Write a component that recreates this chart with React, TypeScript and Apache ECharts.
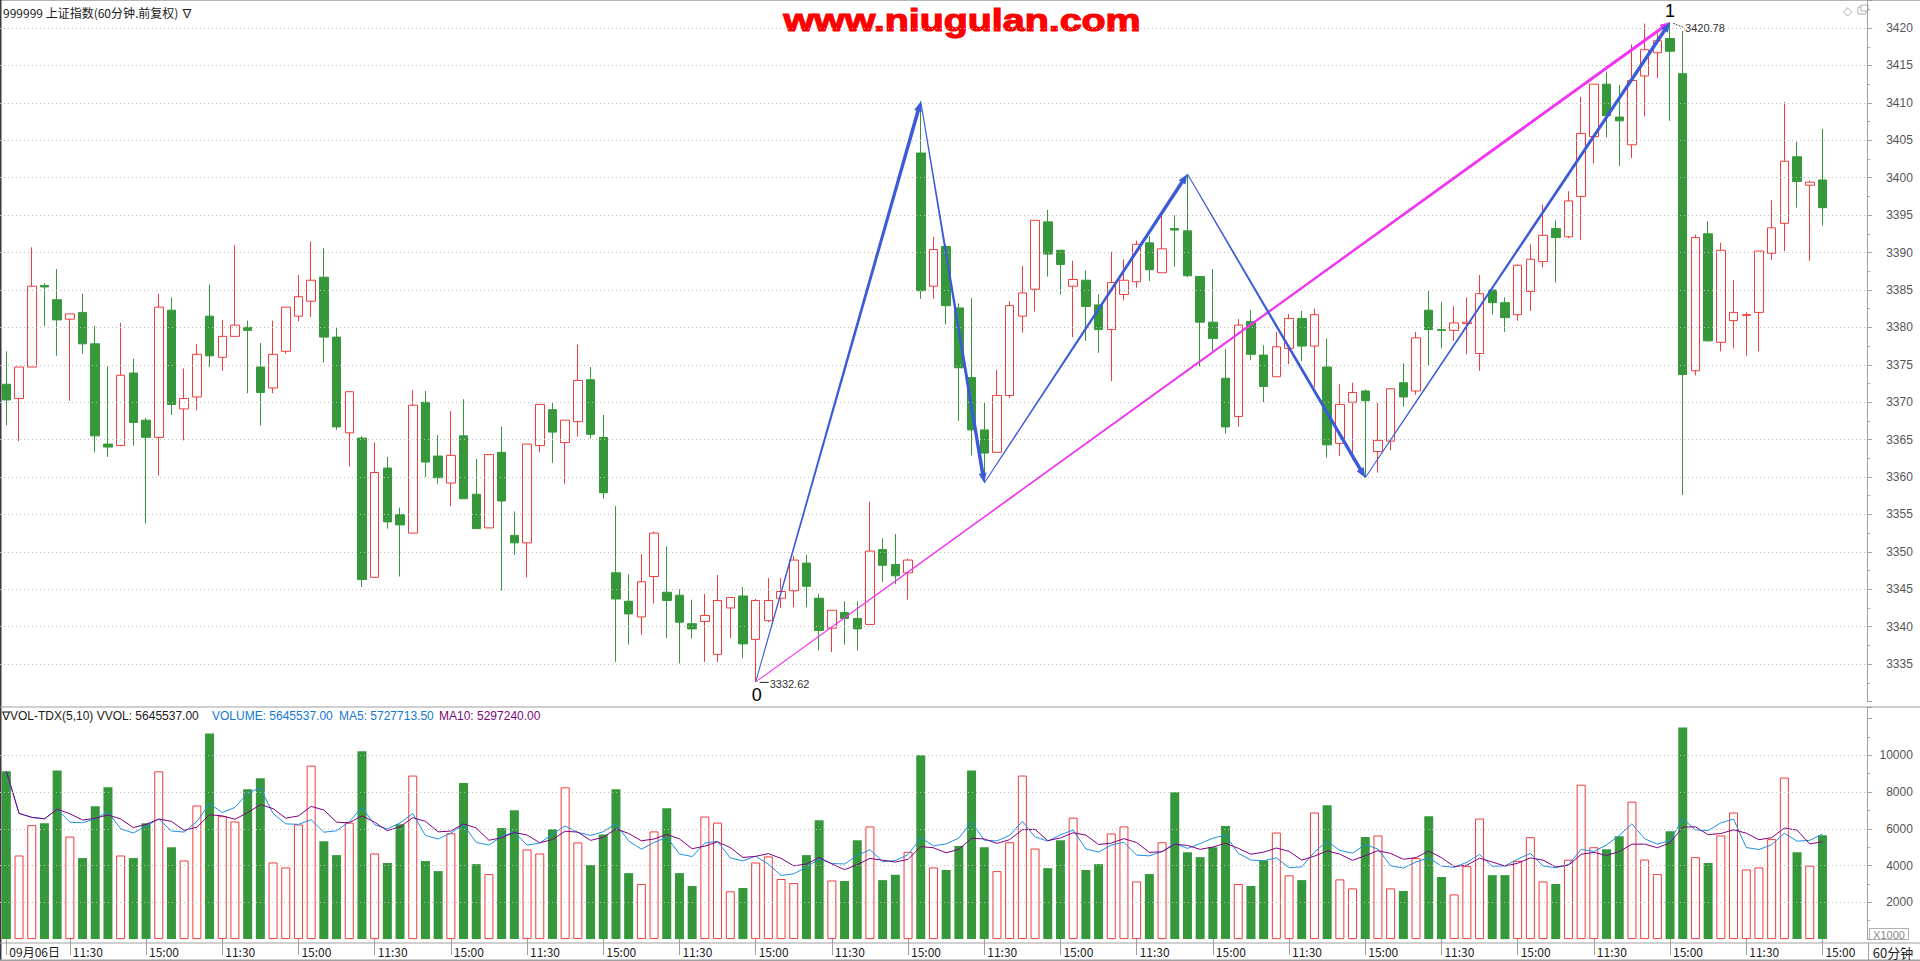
import React, { useEffect, useRef } from 'react';
import * as echarts from 'echarts';

// ---------------- DATA ----------------
// 60-minute candles: [open, close, low, high]
const ohlc: number[][] = [
  [3372.4, 3370.3, 3366.9, 3376.8], [3370.5, 3374.7, 3364.8, 3374.7], [3374.7, 3385.5, 3374.7, 3390.7], [3385.6, 3385.4, 3380.2, 3385.9],
  [3383.7, 3381.0, 3376.2, 3387.8], [3381.1, 3381.8, 3370.2, 3381.8], [3382.0, 3377.8, 3376.5, 3384.5], [3377.8, 3365.5, 3363.3, 3380.2],
  [3364.4, 3364.0, 3362.7, 3374.8], [3364.2, 3373.6, 3364.1, 3380.6], [3373.9, 3367.3, 3364.2, 3375.8], [3367.6, 3365.3, 3353.8, 3367.9],
  [3365.3, 3382.7, 3360.2, 3384.5], [3382.3, 3369.7, 3368.3, 3384.0], [3369.1, 3370.5, 3364.9, 3374.5], [3370.7, 3376.4, 3368.9, 3377.8],
  [3381.5, 3376.2, 3374.7, 3385.7], [3376.0, 3378.8, 3374.2, 3381.0], [3378.8, 3380.3, 3378.8, 3391.0], [3380.0, 3379.6, 3371.2, 3380.9],
  [3374.7, 3371.3, 3366.9, 3377.9], [3371.9, 3376.4, 3371.2, 3380.9], [3376.8, 3382.7, 3376.5, 3382.7], [3381.5, 3384.1, 3380.8, 3387.0],
  [3383.5, 3386.3, 3381.4, 3391.5], [3386.7, 3378.7, 3375.3, 3390.6], [3378.7, 3366.7, 3366.3, 3380.0], [3365.9, 3371.4, 3361.4, 3371.4],
  [3365.2, 3346.3, 3345.3, 3365.5], [3346.6, 3360.6, 3346.6, 3364.6], [3361.2, 3354.0, 3353.1, 3362.7], [3355.0, 3353.6, 3346.7, 3355.9],
  [3352.5, 3369.6, 3352.5, 3371.6], [3370.0, 3362.0, 3360.0, 3371.5], [3362.8, 3359.9, 3359.1, 3365.6], [3359.2, 3362.9, 3356.1, 3368.8],
  [3365.5, 3357.1, 3357.1, 3370.4], [3357.7, 3353.1, 3353.1, 3362.4], [3353.2, 3363.0, 3353.2, 3363.0], [3363.3, 3356.8, 3344.8, 3366.7],
  [3352.2, 3351.2, 3349.6, 3355.4], [3351.2, 3364.4, 3346.6, 3364.4], [3364.2, 3369.7, 3363.3, 3369.7], [3369.0, 3366.0, 3361.9, 3370.0],
  [3364.6, 3367.6, 3359.1, 3367.6], [3367.4, 3372.9, 3365.4, 3377.7], [3373.0, 3365.7, 3365.1, 3374.7], [3365.3, 3357.9, 3357.1, 3368.3],
  [3347.2, 3343.7, 3335.3, 3356.1], [3343.4, 3341.7, 3337.6, 3347.0], [3341.3, 3346.0, 3338.9, 3349.7], [3346.7, 3352.5, 3343.1, 3352.7],
  [3344.6, 3343.5, 3338.5, 3350.7], [3344.2, 3340.6, 3335.1, 3345.0], [3340.4, 3339.7, 3338.4, 3343.6], [3340.7, 3341.5, 3335.3, 3344.4],
  [3336.3, 3343.5, 3335.3, 3346.9], [3342.5, 3343.9, 3338.5, 3344.0], [3344.1, 3337.7, 3335.8, 3345.3], [3338.3, 3343.5, 3332.62, 3343.7],
  [3340.8, 3343.5, 3340.6, 3346.5], [3343.8, 3344.7, 3342.5, 3346.5], [3344.8, 3348.9, 3342.6, 3349.5], [3348.5, 3345.4, 3342.6, 3349.6],
  [3343.8, 3339.5, 3336.8, 3344.4], [3339.8, 3342.2, 3336.6, 3342.2], [3341.9, 3341.1, 3337.6, 3343.4], [3341.1, 3339.7, 3336.8, 3343.4],
  [3340.3, 3350.1, 3340.3, 3356.7], [3350.3, 3348.2, 3346.0, 3351.8], [3348.3, 3346.8, 3345.7, 3352.4], [3347.2, 3348.9, 3343.6, 3349.1],
  [3403.3, 3384.9, 3383.8, 3410.2], [3385.5, 3390.4, 3383.8, 3392.1], [3390.8, 3382.9, 3380.4, 3391.1], [3382.6, 3374.6, 3367.5, 3383.2],
  [3373.3, 3366.3, 3362.9, 3383.9], [3366.3, 3363.2, 3359.2, 3370.0], [3363.3, 3370.9, 3363.3, 3374.3], [3370.9, 3382.9, 3370.6, 3383.5],
  [3381.5, 3384.6, 3379.3, 3388.2], [3385.1, 3394.3, 3382.1, 3394.3], [3394.1, 3389.8, 3386.8, 3395.7], [3390.3, 3388.4, 3384.4, 3390.4],
  [3385.5, 3386.4, 3378.7, 3388.9], [3386.3, 3382.8, 3378.2, 3387.6], [3383.0, 3379.7, 3376.6, 3384.4], [3379.7, 3386.0, 3372.8, 3390.1],
  [3384.4, 3386.3, 3383.6, 3389.1], [3386.1, 3391.1, 3385.3, 3391.6], [3391.3, 3387.7, 3386.2, 3392.2], [3387.3, 3390.5, 3387.3, 3395.0],
  [3393.2, 3393.0, 3388.1, 3395.0], [3392.9, 3386.9, 3386.7, 3400.5], [3386.8, 3380.7, 3374.8, 3386.8], [3380.7, 3378.5, 3376.8, 3387.8],
  [3373.2, 3366.7, 3365.8, 3377.1], [3368.1, 3380.3, 3366.7, 3381.1], [3380.8, 3376.4, 3375.6, 3382.3], [3376.3, 3372.1, 3370.0, 3377.6],
  [3373.4, 3377.4, 3373.4, 3379.4], [3377.2, 3381.2, 3375.1, 3381.8], [3381.2, 3377.5, 3375.5, 3382.2], [3377.5, 3381.7, 3372.0, 3382.5],
  [3374.7, 3364.3, 3362.6, 3378.5], [3364.5, 3369.7, 3362.8, 3372.4], [3370.0, 3371.3, 3362.3, 3372.6], [3371.5, 3370.2, 3359.9, 3371.7],
  [3363.4, 3364.9, 3360.6, 3369.9], [3364.8, 3371.8, 3363.6, 3371.8], [3372.6, 3370.7, 3369.4, 3375.2], [3371.5, 3378.6, 3371.0, 3379.4],
  [3382.3, 3379.7, 3374.8, 3385.0], [3379.7, 3379.6, 3377.2, 3383.4], [3379.6, 3380.6, 3378.2, 3382.8], [3380.5, 3380.7, 3376.4, 3384.0],
  [3376.5, 3384.5, 3374.2, 3387.0], [3385.0, 3383.3, 3381.7, 3385.0], [3383.3, 3381.3, 3379.4, 3384.0], [3381.7, 3388.3, 3380.9, 3388.4],
  [3384.8, 3389.1, 3382.2, 3391.1], [3388.8, 3392.3, 3388.0, 3396.4], [3393.2, 3392.0, 3386.0, 3394.3], [3392.1, 3396.9, 3391.9, 3398.2],
  [3397.5, 3405.9, 3391.7, 3410.8], [3405.5, 3412.5, 3401.9, 3412.5], [3412.5, 3408.3, 3405.4, 3414.2], [3408.1, 3407.6, 3401.6, 3412.4],
  [3404.4, 3413.0, 3402.6, 3417.8], [3413.6, 3417.1, 3408.2, 3420.6], [3416.7, 3418.3, 3413.3, 3419.3], [3418.6, 3416.9, 3407.6, 3420.78],
  [3413.9, 3373.7, 3357.6, 3419.6], [3374.2, 3392.0, 3373.6, 3392.4], [3392.5, 3378.2, 3378.1, 3394.2], [3378.0, 3390.3, 3376.8, 3391.3],
  [3380.9, 3382.0, 3377.2, 3386.3], [3381.6, 3381.7, 3376.2, 3382.0], [3382.0, 3390.2, 3376.8, 3390.2], [3389.9, 3393.3, 3389.0, 3397.0],
  [3393.9, 3402.2, 3390.2, 3410.1], [3402.8, 3399.5, 3396.0, 3404.8], [3399.0, 3399.4, 3388.9, 3399.6], [3399.7, 3396.0, 3393.6, 3406.5],
];

// volume, in units of 1000 (axis "X1000")
const volumes: number[] = [
  9130, 4550, 6200, 6300, 9180, 5580, 4410, 7230, 8260, 4550, 4410, 6310, 9130, 5000, 4280, 7270,
  11190, 6690, 6400, 8150, 8750, 4170, 3900, 6240, 9440, 5330, 4570, 6340, 10220, 4660, 4140, 6250,
  8900, 4250, 3700, 5760, 8500, 4080, 3540, 6040, 7010, 4880, 4660, 5980, 8260, 5260, 4030, 5690,
  8150, 3590, 3000, 5860, 7120, 3590, 2890, 6670, 6340, 2600, 2780, 4170, 4500, 3270, 3050, 4570,
  6470, 3190, 3160, 5380, 6130, 3210, 3500, 4750, 10000, 3900, 3760, 5070, 9180, 5000, 3700, 5270,
  8900, 4930, 3860, 5380, 6610, 3760, 4080, 5750, 6130, 3140, 3540, 5270, 7990, 4730, 4460, 5000,
  6150, 3000, 2890, 4280, 5800, 3470, 3210, 6890, 7290, 3250, 2760, 5550, 5640, 2760, 2620, 4410,
  6690, 3380, 2430, 3970, 6560, 3480, 3480, 4260, 5550, 3140, 3000, 4320, 8400, 5000, 4890, 5600,
  7480, 4330, 3540, 5870, 11520, 4460, 4140, 5640, 6890, 3790, 3900, 5440, 8790, 4730, 4000, 5646,
];

// hourly sessions of each trading day
const sessionTimes = ['10:30', '11:30', '14:00', '15:00'];
const firstDayLabel = '09月06日';

// price axis ticks & volume axis ticks
const priceTicks = [3335, 3340, 3345, 3350, 3355, 3360, 3365, 3370, 3375, 3380, 3385, 3390, 3395, 3400, 3405, 3410, 3415, 3420];
const volTicks = [2000, 4000, 6000, 8000, 10000];

// wave pivots (blue zig-zag) and the magenta trend arrow
const zigzagIdx = [59, 72, 77, 93, 107, 131];
const zigzagVal = [3332.62, 3410.2, 3359.2, 3400.5, 3359.9, 3420.78];
const trendIdx = [59, 131];
const trendVal = [3332.62, 3420.78];
const pivotLabels = ['0', '1'];

// header texts
const titleText = '999999 上证指数(60分钟.前复权) ∇';
const watermark = 'www.niugulan.com';
const volHeader = [
  { text: '∇VOL-TDX(5,10) VVOL: 5645537.00', color: '#1a1a1a' },
  { text: 'VOLUME: 5645537.00', color: '#1478d2' },
  { text: 'MA5: 5727713.50', color: '#1478d2' },
  { text: 'MA10: 5297240.00', color: '#7a0a7a' },
];

// ---------------- STYLE / LAYOUT ----------------
const RED = '#f03c3c';
const GREEN = '#36983a';
const BLUE = '#3b5bd9';
const MAGENTA = '#f233f2';
const GRIDC = '#bdbdbd';
const AXISC = '#a0a0a0';
const FONT = '"Liberation Sans", Arial, sans-serif';
const CJK = '"Noto Sans CJK SC", "Liberation Sans", sans-serif';
const SLOT = 12.7;
const NSLOTS = 147;
const PLOT_W = SLOT * NSLOTS;

const N = ohlc.length;
const categories: string[] = [];
for (let i = 0; i < NSLOTS; i++) categories.push(i < N ? sessionTimes[i % 4] : '');

const movingAvg = (n: number) =>
  volumes.map((_, i) => {
    const s = volumes.slice(Math.max(0, i - n + 1), i + 1);
    return +(s.reduce((a, b) => a + b, 0) / s.length).toFixed(1);
  });

const showLabel = (idx: number) => idx === 0 || (idx % 6 === 5 && idx < N);

function arrow(p0: number[], p1: number[], w0: number, w1: number, color: string, headL: number, headW: number) {
  const dx = p1[0] - p0[0];
  const dy = p1[1] - p0[1];
  const len = Math.hypot(dx, dy) || 1;
  const ux = dx / len, uy = dy / len;
  const nx = -uy, ny = ux;
  const bx = p1[0] - ux * headL, by = p1[1] - uy * headL;
  const pts = [
    [p0[0] + nx * w0 / 2, p0[1] + ny * w0 / 2],
    [bx + nx * w1 / 2, by + ny * w1 / 2],
    [bx + nx * headW / 2, by + ny * headW / 2],
    [p1[0], p1[1]],
    [bx - nx * headW / 2, by - ny * headW / 2],
    [bx - nx * w1 / 2, by - ny * w1 / 2],
    [p0[0] - nx * w0 / 2, p0[1] - ny * w0 / 2],
  ];
  return { type: 'polygon', shape: { points: pts }, style: { fill: color } };
}

function buildOption(): any {
  const volData = volumes.map((v, i) => ({
    value: v,
    itemStyle: ohlc[i][1] >= ohlc[i][0]
      ? { color: '#ffffff', borderColor: RED, borderWidth: 1 }
      : { color: GREEN, borderColor: GREEN, borderWidth: 0 },
  }));
  const gridMark = (vals: number[]) => ({
    silent: true,
    symbol: ['none', 'none'],
    label: { show: false },
    lineStyle: { color: GRIDC, type: [1, 3], width: 1 },
    emphasis: { disabled: true },
    data: vals.map((v) => ({ yAxis: v })),
  });

  const graphic: any[] = [
    { type: 'rect', x: 0, y: 0, shape: { width: 1920, height: 1 }, style: { fill: '#b4b4b4' } },
    { type: 'rect', x: 0, y: 0, shape: { width: 1.5, height: 961 }, style: { fill: '#3a3a3a' } },
    { type: 'rect', x: 0, y: 706.5, shape: { width: 1920, height: 1 }, style: { fill: AXISC } },
    { type: 'rect', x: 0, y: 942.5, shape: { width: 1920, height: 1 }, style: { fill: AXISC } },
    { type: 'rect', x: 0, y: 959.5, shape: { width: 1920, height: 1.5 }, style: { fill: AXISC } },
    { type: 'rect', x: 1868, y: 942.5, shape: { width: 1, height: 18 }, style: { fill: AXISC } },
    {
      type: 'text', x: 3, y: 12.5,
      style: { text: titleText, font: `12px ${CJK}`, fill: '#1a1a1a', verticalAlign: 'middle', align: 'left' },
    },
    {
      type: 'text', x: 962, y: 20.5, scaleX: 1.27, scaleY: 1,
      style: { text: watermark, font: `bold 31px ${FONT}`, fill: '#ff0000', stroke: '#ff0000', lineWidth: 1.2, align: 'center', verticalAlign: 'middle' },
    },
    { type: 'text', x: 1847, y: 11, style: { text: '◇', font: `12px ${FONT}`, fill: '#b0b0b0', align: 'center', verticalAlign: 'middle' } },
    { type: 'rect', x: 1858, y: 7, shape: { width: 8, height: 7 }, style: { fill: 'none', stroke: '#b0b0b0', lineWidth: 1 } },
    { type: 'rect', x: 1861, y: 5, shape: { width: 7, height: 6 }, style: { fill: '#fff', stroke: '#b0b0b0', lineWidth: 1 } },
    { type: 'rect', x: 1869.5, y: 928.5, shape: { width: 39, height: 11 }, style: { fill: '#fff', stroke: '#b0b0b0', lineWidth: 1 } },
    { type: 'text', x: 1889, y: 934.5, style: { text: 'X1000', font: `11px ${FONT}`, fill: '#8a8a8a', align: 'center', verticalAlign: 'middle' } },
    { type: 'text', x: 1893, y: 952, style: { text: '60分钟', font: `13px ${CJK}`, fill: '#1a1a1a', align: 'center', verticalAlign: 'middle' } },
  ];
  const hx = [2, 212, 339, 439];
  volHeader.forEach((h, k) => {
    graphic.push({
      type: 'text', x: hx[k], y: 715.5,
      style: { text: h.text, font: `12px ${FONT}`, fill: h.color, align: 'left', verticalAlign: 'middle' },
    });
  });

  return {
    animation: false,
    backgroundColor: '#ffffff',
    graphic,
    grid: [
      { left: 0, top: 0, width: PLOT_W, height: 701.5 },
      { left: 0, top: 707, width: PLOT_W, height: 232.1 },
    ],
    xAxis: [
      { type: 'category', gridIndex: 0, data: categories, boundaryGap: true, show: false },
      {
        type: 'category', gridIndex: 1, data: categories, boundaryGap: true, offset: 3.5,
        axisLine: { show: false },
        axisTick: { show: true, interval: (i: number) => showLabel(i), alignWithLabel: true, length: 16, lineStyle: { color: AXISC } },
        axisLabel: {
          interval: (i: number) => showLabel(i),
          formatter: (v: string, i: number) => (i === 0 ? firstDayLabel : v),
          align: 'left', padding: [0, 0, 0, 3], margin: 3,
          color: '#1a1a1a', fontSize: 12, fontFamily: CJK,
        },
        splitLine: { show: false },
      },
    ],
    yAxis: [
      {
        type: 'value', gridIndex: 0, position: 'right', min: 3330, max: 3423.75, interval: 5,
        axisLine: { show: true, lineStyle: { color: AXISC } },
        axisTick: { show: true, length: 5, lineStyle: { color: AXISC } },
        minorTick: { show: true, splitNumber: 2, length: 3, lineStyle: { color: AXISC } },
        axisLabel: {
          formatter: (v: number) => (priceTicks.indexOf(v) >= 0 ? String(v) : ''),
          align: 'right', margin: 46, color: '#555555', fontSize: 12, fontFamily: FONT,
        },
        splitLine: { show: false },
      },
      {
        type: 'value', gridIndex: 1, position: 'right', min: 0, max: 12631, interval: 2000,
        axisLine: { show: true, lineStyle: { color: AXISC } },
        axisTick: { show: true, length: 5, lineStyle: { color: AXISC } },
        minorTick: { show: true, splitNumber: 2, length: 3, lineStyle: { color: AXISC } },
        axisLabel: {
          formatter: (v: number) => (volTicks.indexOf(v) >= 0 ? String(v) : ''),
          align: 'right', margin: 46, color: '#555555', fontSize: 12, fontFamily: FONT,
        },
        splitLine: { show: false },
      },
    ],
    series: [
      {
        type: 'candlestick', xAxisIndex: 0, yAxisIndex: 0, data: ohlc, barWidth: 9,
        itemStyle: { color: '#ffffff', color0: GREEN, borderColor: RED, borderColor0: GREEN, borderWidth: 1 },
        markLine: gridMark(priceTicks),
        z: 2,
      },
      {
        type: 'bar', xAxisIndex: 1, yAxisIndex: 1, data: volData, barWidth: 9,
        markLine: gridMark(volTicks),
      },
      {
        type: 'line', xAxisIndex: 1, yAxisIndex: 1, data: movingAvg(5), symbol: 'none',
        lineStyle: { color: '#1e8fe6', width: 1 }, z: 3,
      },
      {
        type: 'line', xAxisIndex: 1, yAxisIndex: 1, data: movingAvg(10), symbol: 'none',
        lineStyle: { color: '#800080', width: 1 }, z: 3,
      },
      {
        type: 'custom', xAxisIndex: 0, yAxisIndex: 0, clip: false, z: 5,
        data: [[trendIdx[0], trendVal[0]]],
        encode: { x: 0, y: 1 },
        renderItem: (params: any, api: any) => {
          if (params.dataIndex !== 0) return null;
          const children: any[] = [];
          const t0 = api.coord([trendIdx[0], trendVal[0]]);
          const t1 = api.coord([trendIdx[1], trendVal[1]]);
          children.push(arrow(t0, t1, 1, 3.2, MAGENTA, 10, 8));
          for (let k = 0; k < zigzagIdx.length - 1; k++) {
            const a = api.coord([zigzagIdx[k], zigzagVal[k]]);
            const b = api.coord([zigzagIdx[k + 1], zigzagVal[k + 1]]);
            children.push(arrow(a, b, 1, 3.6, BLUE, 10, 8));
          }
          // pivot labels
          children.push({
            type: 'text', x: t0[0] + 1, y: t0[1] + 13,
            style: { text: pivotLabels[0], font: `18px ${FONT}`, fill: '#000', align: 'center', verticalAlign: 'middle' },
          });
          children.push({
            type: 'line', shape: { x1: t0[0] + 4, y1: t0[1] + 0.5, x2: t0[0] + 13, y2: t0[1] + 0.5 },
            style: { stroke: '#222', lineWidth: 1 },
          });
          children.push({
            type: 'text', x: t0[0] + 14, y: t0[1] + 2,
            style: { text: trendVal[0].toFixed(2), font: `11px ${FONT}`, fill: '#333', align: 'left', verticalAlign: 'middle' },
          });
          children.push({
            type: 'text', x: t1[0], y: t1[1] - 11,
            style: { text: pivotLabels[1], font: `18px ${FONT}`, fill: '#000', align: 'center', verticalAlign: 'middle' },
          });
          children.push({
            type: 'line', shape: { x1: t1[0] + 3, y1: t1[1] + 1, x2: t1[0] + 13, y2: t1[1] + 5 },
            style: { stroke: '#555', lineWidth: 1, lineDash: [2, 1] },
          });
          children.push({
            type: 'text', x: t1[0] + 15, y: t1[1] + 5.5,
            style: { text: trendVal[1].toFixed(2), font: `11px ${FONT}`, fill: '#333', align: 'left', verticalAlign: 'middle' },
          });
          return { type: 'group', children };
        },
      },
    ],
  };
}

export default function App() {
  const ref = useRef<HTMLDivElement>(null);
  useEffect(() => {
    if (!ref.current) return;
    const chart = echarts.init(ref.current, null, { renderer: 'svg' });
    chart.setOption(buildOption());
    return () => chart.dispose();
  }, []);
  return (
    <div
      ref={ref}
      style={{ position: 'fixed', left: 0, top: 0, width: 1920, height: 961, background: '#ffffff' }}
    />
  );
}
